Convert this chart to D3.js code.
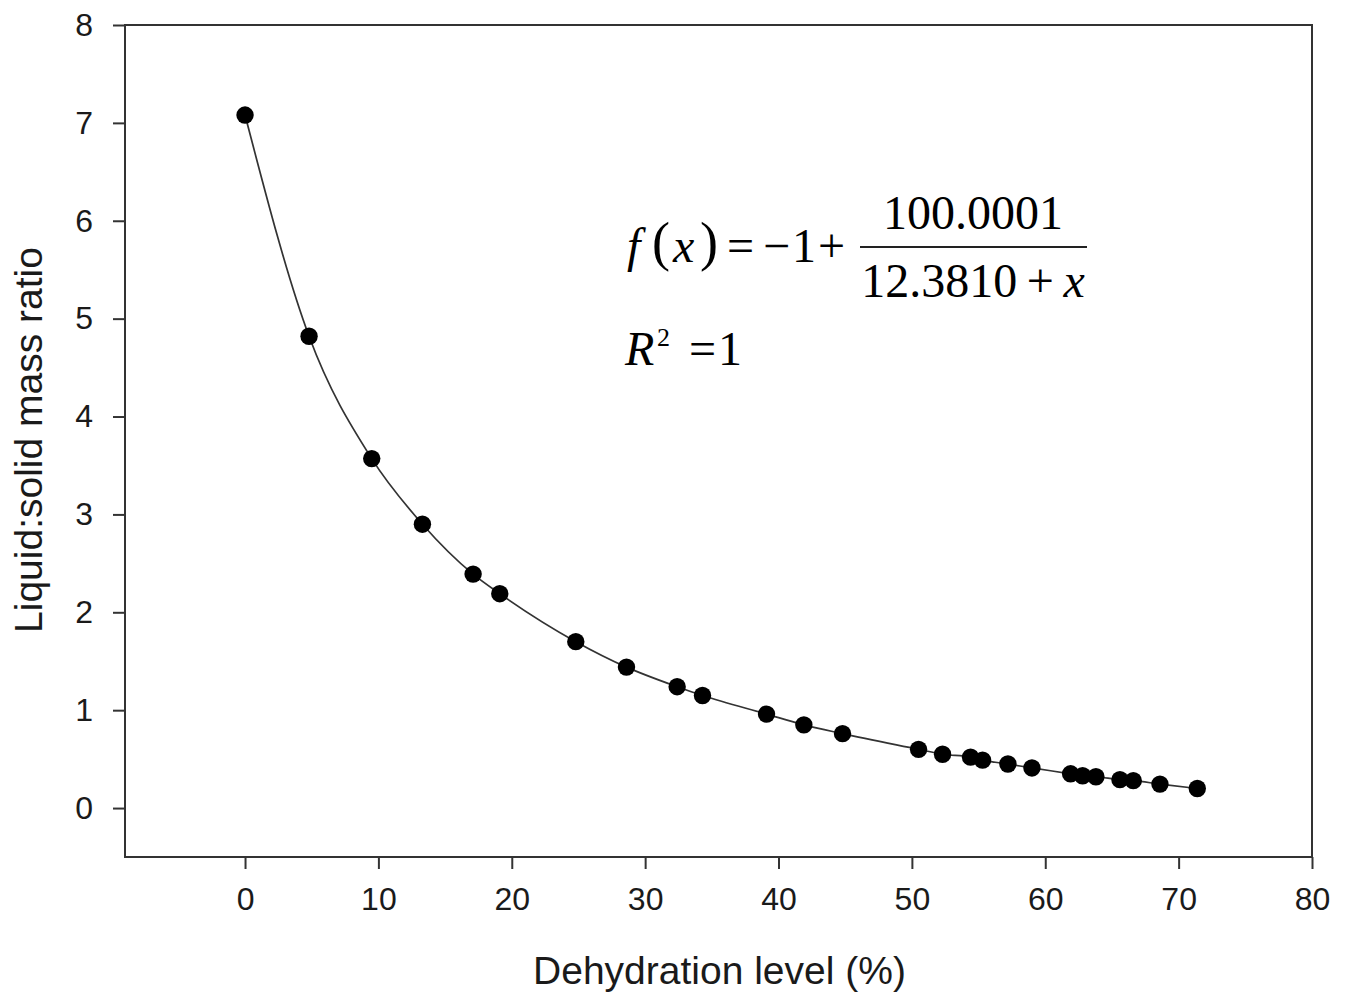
<!DOCTYPE html>
<html>
<head>
<meta charset="utf-8">
<script src="https://cdn.jsdelivr.net/npm/d3@7"></script>
<style>
  html, body { margin: 0; padding: 0; background: #fff; }
  svg { display: block; }
</style>
</head>
<body>
<svg id="chart" width="1346" height="996"></svg>
<script>
// ---- data ----
const dehydration = [0, 4.8, 9.5, 13.3, 17.1, 19.1, 24.8, 28.6, 32.4, 34.3, 39.1, 41.9, 44.8,
                     50.5, 52.3, 54.4, 55.3, 57.2, 59.0, 61.9, 62.8, 63.8, 65.6, 66.6, 68.6, 71.4];
const massRatio   = [7.08, 4.82, 3.57, 2.90, 2.39, 2.19, 1.70, 1.44, 1.24, 1.15, 0.96, 0.85, 0.76,
                     0.60, 0.55, 0.52, 0.49, 0.45, 0.41, 0.35, 0.33, 0.32, 0.29, 0.28, 0.245, 0.20];
const xTicks = [0, 10, 20, 30, 40, 50, 60, 70, 80];
const yTicks = [0, 1, 2, 3, 4, 5, 6, 7, 8];
const xDomain = [-9, 80];
const yDomain = [-0.5, 8];
const xTitle = "Dehydration level (%)";
const yTitle = "Liquid:solid mass ratio";

const points = dehydration.map((d, i) => ({x: d, y: massRatio[i]}));

// ---- layout ----
const svg = d3.select("#chart");
const L = 125, R = 1312, T = 25, B = 857;
const x = d3.scaleLinear().domain(xDomain).range([L, R]);
const y = d3.scaleLinear().domain(yDomain).range([B, T]);
const axisColor = "#333";
const textColor = "#1a1a1a";

// frame
svg.append("rect")
  .attr("x", L).attr("y", T).attr("width", R - L).attr("height", B - T)
  .attr("fill", "none").attr("stroke", axisColor).attr("stroke-width", 2);

// axes
const xAxis = svg.append("g").attr("transform", `translate(0,${B})`)
  .call(d3.axisBottom(x).tickValues(xTicks).tickSize(12).tickPadding(18).tickFormat(d3.format("d")));
const yAxis = svg.append("g").attr("transform", `translate(${L},0)`)
  .call(d3.axisLeft(y).tickValues(yTicks).tickSize(12).tickPadding(20).tickFormat(d3.format("d")));

[xAxis, yAxis].forEach(g => {
  g.select(".domain").remove();
  g.selectAll(".tick line").attr("stroke", axisColor).attr("stroke-width", 2);
  g.selectAll(".tick text")
    .attr("fill", textColor)
    .style("font-family", "'Liberation Sans', Arial, sans-serif")
    .style("font-size", "32px");
});

// axis titles
svg.append("text")
  .attr("x", (L + R) / 2 + 1).attr("y", 984)
  .attr("text-anchor", "middle")
  .attr("fill", textColor)
  .style("font-family", "'Liberation Sans', Arial, sans-serif")
  .style("font-size", "39px")
  .text(xTitle);

svg.append("text")
  .attr("transform", `translate(42,${(T + B) / 2 - 1}) rotate(-90)`)
  .attr("text-anchor", "middle")
  .attr("fill", textColor)
  .style("font-family", "'Liberation Sans', Arial, sans-serif")
  .style("font-size", "39px")
  .text(yTitle);

// curve through the points
const line = d3.line().x(d => x(d.x)).y(d => y(d.y)).curve(d3.curveMonotoneX);
svg.append("path")
  .datum(points)
  .attr("d", line)
  .attr("fill", "none")
  .attr("stroke", "#333")
  .attr("stroke-width", 1.7);

// markers
svg.append("g").selectAll("circle")
  .data(points)
  .join("circle")
  .attr("cx", d => x(d.x))
  .attr("cy", d => y(d.y))
  .attr("r", 8.7)
  .attr("fill", "#000");

// equation annotation
const serif = "'Liberation Serif', 'Times New Roman', serif";
const eq = svg.append("g").attr("fill", "#000").style("font-family", serif).style("font-size", "48px");
const lhs = [
  {s: "f", x: 627, it: true},
  {s: "(", x: 652, it: false, big: true},
  {s: "x", x: 673, it: true},
  {s: ")", x: 700, it: false, big: true},
  {s: "=", x: 727, it: false},
  {s: "\u2212", x: 763, it: false},
  {s: "1", x: 792, it: false},
  {s: "+", x: 818, it: false}
];
eq.selectAll("text.lhs").data(lhs).join("text")
  .attr("class", "lhs")
  .attr("x", d => d.x).attr("y", d => d.big ? 260 : 262)
  .attr("font-style", d => d.it ? "italic" : "normal")
  .style("font-size", d => d.big ? "54px" : null)
  .text(d => d.s);
eq.append("text").attr("x", 973).attr("y", 229).attr("text-anchor", "middle").text("100.0001");
eq.append("line").attr("x1", 860).attr("x2", 1087).attr("y1", 247).attr("y2", 247)
  .attr("stroke", "#222").attr("stroke-width", 2.2);
const t2 = eq.append("text").attr("x", 973).attr("y", 297).attr("text-anchor", "middle");
t2.append("tspan").text("12.3810\u2009+\u2009");
t2.append("tspan").attr("font-style", "italic").text("x");
eq.append("text").attr("x", 625).attr("y", 365).attr("font-style", "italic").text("R");
eq.append("text").attr("x", 657).attr("y", 346).style("font-size", "26px").text("2");
eq.append("text").attr("x", 689).attr("y", 365).text("=");
eq.append("text").attr("x", 718).attr("y", 365).text("1");
</script>
</body>
</html>
